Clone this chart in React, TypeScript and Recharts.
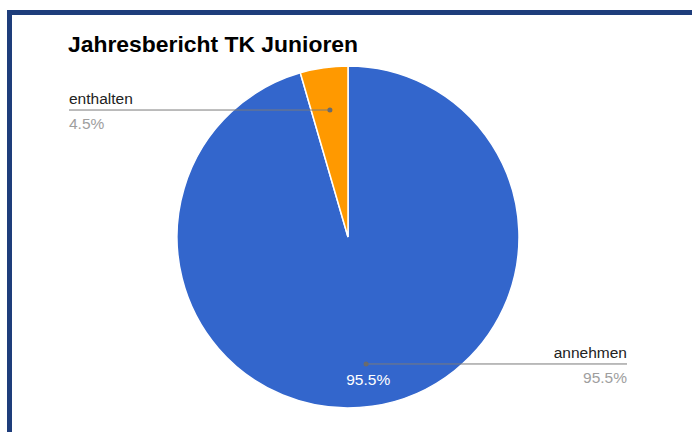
import { PieChart, Pie, Cell } from 'recharts';

const categories = ['annehmen', 'enthalten'];
const values = [95.5, 4.5];
const COLORS = ['#3366cc', '#ff9900'];

const data = categories.map((name, i) => ({ name, value: values[i] }));

const RAD = Math.PI / 180;
const FONT = 'Liberation Sans, Arial, sans-serif';

function renderLabel(props: any) {
  const { cx, cy, midAngle, outerRadius, name, percent, index } = props;
  const dotR = outerRadius * 0.75;
  const dx = cx + dotR * Math.cos(-midAngle * RAD);
  const dy = cy + dotR * Math.sin(-midAngle * RAD);
  const right = dx > cx;
  const endX = right ? 627 : 69;
  const pct = `${(percent * 100).toFixed(1)}%`;
  const anchor = right ? 'end' : 'start';
  const inR = outerRadius * 0.84;
  const ix = cx + inR * Math.cos(-midAngle * RAD);
  const iy = cy + inR * Math.sin(-midAngle * RAD);
  return (
    <g key={`lbl-${index}`}>
      <line x1={dx} y1={dy} x2={endX} y2={dy} stroke="#7a7a7a" strokeWidth={1} />
      <circle cx={dx} cy={dy} r={2.5} fill="#6b6b6b" />
      <text x={endX} y={dy - 6} textAnchor={anchor} fill="#222" fontSize={15.5} fontFamily={FONT}>
        {name}
      </text>
      <text x={endX} y={dy + 19} textAnchor={anchor} fill="#9e9e9e" fontSize={15.5} fontFamily={FONT}>
        {pct}
      </text>
      {percent > 0.1 && (
        <text x={ix} y={iy + 6} textAnchor="middle" fill="#ffffff" fontSize={15.5} fontFamily={FONT}>
          {pct}
        </text>
      )}
    </g>
  );
}

export default function App() {
  return (
    <div style={{ position: 'absolute', left: 0, top: 0, width: 692, height: 432, background: '#fff', overflow: 'hidden' }}>
      <div
        style={{
          position: 'absolute',
          left: 7,
          top: 10,
          width: 720,
          height: 460,
          borderLeft: '5px solid #1e3d7b',
          borderTop: '5px solid #1e3d7b',
        }}
      />
      <div
        style={{
          position: 'absolute',
          left: 68,
          top: 31,
          fontFamily: FONT,
          fontWeight: 'bold',
          fontSize: 22.9,
          color: '#000',
          whiteSpace: 'nowrap',
        }}
      >
        Jahresbericht TK Junioren
      </div>
      <div style={{ position: 'absolute', left: 0, top: 0 }}>
        <PieChart width={692} height={432} margin={{ top: 0, right: 0, bottom: 0, left: 0 }}>
          <Pie
            data={data}
            dataKey="value"
            nameKey="name"
            cx={348}
            cy={237}
            outerRadius={171}
            startAngle={90}
            endAngle={-270}
            stroke="#ffffff"
            strokeWidth={1.5}
            labelLine={false}
            label={renderLabel}
            isAnimationActive={false}
          >
            {data.map((entry, index) => (
              <Cell key={`cell-${index}`} fill={COLORS[index % COLORS.length]} />
            ))}
          </Pie>
        </PieChart>
      </div>
    </div>
  );
}
